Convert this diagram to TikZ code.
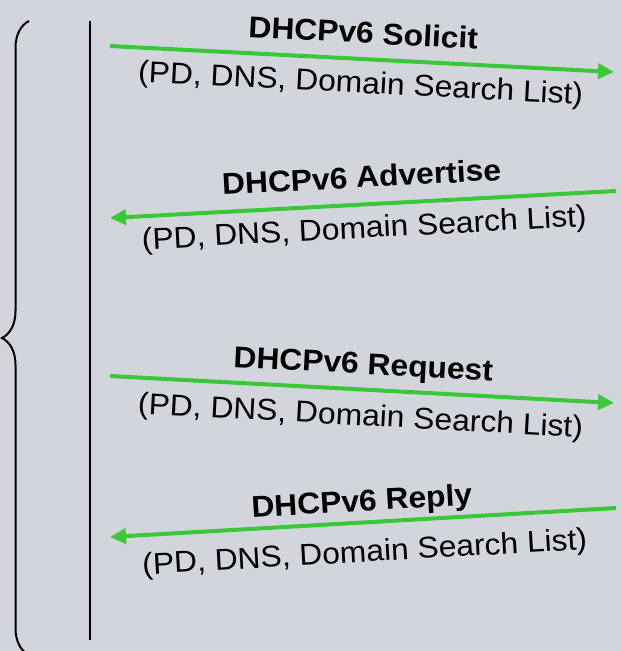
\documentclass[tikz,border=0pt]{standalone}
\usepackage{fontspec}
\setmainfont{Liberation Sans}
\usetikzlibrary{arrows.meta,decorations.pathreplacing}
\definecolor{bggray}{RGB}{210,213,220}
\definecolor{msggreen}{RGB}{56,200,56}

\begin{document}
\begin{tikzpicture}[x=1pt, y=-1pt,
  >={Triangle[length=16pt,width=15pt]},
  msg/.style={draw=msggreen, line width=4pt},
  msgname/.style={midway, sloped, above=#1, inner sep=0pt, text depth=0pt, xscale=1.06, font=\fontsize{30}{32}\selectfont\bfseries},
  msgname/.default=14pt,
  params/.style={midway, sloped, below=#1, inner sep=0pt, text height=21.5pt, xscale=1.06, font=\fontsize{30}{32}\selectfont},
  params/.default=10.5pt,
]
\clip (0,0) rectangle (621,651);
\fill[bggray] (0,0) rectangle (621,651);
\coordinate (top) at (90,21);
\coordinate (bot) at (90,640);
\draw[line width=2.5pt] (top) -- (bot);
\draw[decorate, decoration={brace, amplitude=27pt}, line width=2pt] (29,655) -- (29,21);
\coordinate (c1) at (110,46);
\coordinate (s1) at (614,72);
\coordinate (c2) at (110,218);
\coordinate (s2) at (616,191);
\coordinate (c3) at (110,376);
\coordinate (s3) at (614,403);
\coordinate (c4) at (110,537);
\coordinate (s4) at (616,508);
\draw[msg, ->] (c1) -- (s1) node[msgname] {DHCPv6 Solicit} node[params] {(PD, DNS, Domain Search List)};
\draw[msg, <-] (c2) -- (s2) node[msgname=15pt] {DHCPv6 Advertise} node[params=10pt] {(PD, DNS, Domain Search List)};
\draw[msg, ->] (c3) -- (s3) node[msgname=13.5pt] {DHCPv6 Request} node[params=12.5pt] {(PD, DNS, Domain Search List)};
\draw[msg, <-] (c4) -- (s4) node[msgname=9.5pt] {DHCPv6 Reply} node[params=16pt] {(PD, DNS, Domain Search List)};
\end{tikzpicture}
\end{document}
